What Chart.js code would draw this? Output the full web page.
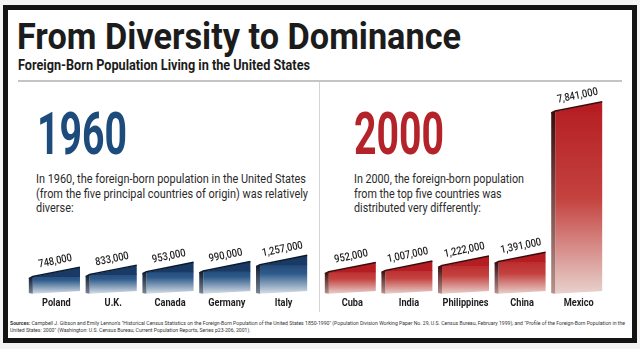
<!DOCTYPE html>
<html>
<head>
<meta charset="utf-8">
<script src="https://cdn.jsdelivr.net/npm/chart.js@4.4.1/dist/chart.umd.min.js"></script>
<style>
  html, body { margin: 0; padding: 0; background: #f4f4f4; }
  #page { position: relative; width: 640px; height: 349px; overflow: hidden; }
  #frame {
    position: absolute; left: 3px; top: 5px; width: 624px; height: 328px;
    border: 5px solid #141414; background: #fff;
  }
  .abs { position: absolute; white-space: nowrap; transform-origin: 0 0; font-family: Roboto, sans-serif; }
  #title { left: 17px; top: 15px; font-weight: bold; font-size: 37px; color: #1c1c1c; }
  #subtitle { left: 18px; top: 57px; font-weight: bold; font-size: 14.5px; color: #1c1c1c; }
  #rule { left: 18px; top: 80px; width: 604px; height: 2px; background: #c4c4c4; }
  #divider { left: 319px; top: 82px; width: 1px; height: 230px; background: #d4d4d4; }
  .year { top: 99px; font-weight: bold; font-size: 59px; line-height: 70px; }
  #y1960 { left: 37px; color: #1d4c7c; }
  #y2000 { left: 354px; color: #b5232a; }
  .para { top: 172px; font-size: 12.5px; line-height: 14.5px; color: #2a2a2a; }
  #p1960 { left: 36px; }
  #p2000 { left: 354px; }
  #sources { left: 10px; top: 319px; font-size: 6px; line-height: 7px; color: #333; }
  .box { position: absolute; top: 84px; height: 229px; }
  #box1960 { left: 28px; width: 284px; }
  #box2000 { left: 324px; width: 283px; }
</style>
</head>
<body>
<div id="page">
  <div id="frame"></div>
  <div id="title" class="abs" data-w="444">From Diversity to Dominance</div>
  <div id="subtitle" class="abs" data-w="292">Foreign-Born Population Living in the United States</div>
  <div id="rule" class="abs"></div>
  <div id="divider" class="abs"></div>
  <div id="y1960" class="abs year" data-w="90">1960</div>
  <div id="y2000" class="abs year" data-w="90">2000</div>
  <div id="p1960" class="abs para" data-w="270"><span class="first">In 1960, the foreign-born population in the United States</span><br>(from the five principal countries of origin) was relatively<br>diverse:</div>
  <div id="p2000" class="abs para" data-w="170"><span class="first">In 2000, the foreign-born population</span><br>from the top five countries was<br>distributed very differently:</div>
  <div class="box" id="box1960"><canvas id="chart1960"></canvas></div>
  <div class="box" id="box2000"><canvas id="chart2000"></canvas></div>
  <div id="sources" class="abs" data-w="615"><span class="first"><b>Sources:</b> Campbell J. Gibson and Emily Lennon's "Historical Census Statistics on the Foreign-Born Population of the United States 1850-1990" (Population Division Working Paper No. 29, U.S. Census Bureau, February 1999), and "Profile of the Foreign-Born Population in the</span><br>United States: 2000" (Washington: U.S. Census Bureau, Current Population Reports, Series p23-206, 2001).</div>
</div>
<script>
// chart data
const countries1960 = ['Poland', 'U.K.', 'Canada', 'Germany', 'Italy'];
const pop1960 = [748000, 833000, 953000, 990000, 1257000];
const countries2000 = ['Cuba', 'India', 'Philippines', 'China', 'Mexico'];
const pop2000 = [952000, 1007000, 1222000, 1391000, 7841000];
const axisMax = 9000000;

const blueStops = [[0, '#193a66'], [0.45, '#2d5a8a'], [1, '#d9e0e8']];
const redStops = [[0, '#b51d22'], [0.5, '#c4423f'], [1, '#e8d2cd']];

// squeeze wide text so it looks like the condensed face in the original
document.querySelectorAll('[data-w]').forEach(el => {
    const first = el.querySelector('.first') || el;
    const w = first.getBoundingClientRect().width;
    el.style.transform = 'scaleX(' + (el.dataset.w / w) + ')';
});

function barGradient(stops) {
    return (ctx) => {
        const chart = ctx.chart;
        if (!chart.chartArea || ctx.raw == null) return stops[0][1];
        const y = chart.scales.y;
        const top = y.getPixelForValue(ctx.raw);
        const base = y.getPixelForValue(0);
        const g = chart.ctx.createLinearGradient(0, top - 8, 0, base);
        stops.forEach(s => g.addColorStop(s[0], s[1]));
        return g;
    };
}

// draws slanted top, dark left side, tilted value labels and category names
const bar3d = {
    id: 'bar3d',
    afterDatasetsDraw(chart, args, opts) {
        const ctx = chart.ctx;
        const meta = chart.getDatasetMeta(0);
        const values = chart.data.datasets[0].data;
        const labels = chart.data.labels;
        meta.data.forEach((el, i) => {
            const { x, y, base, width } = el.getProps(['x', 'y', 'base', 'width'], true);
            const left = x - width / 2, right = x + width / 2;
            const rise = width * 0.2;

            ctx.save();
            // top wedge
            ctx.beginPath();
            ctx.moveTo(left, y + 0.5);
            ctx.lineTo(right, y - rise);
            ctx.lineTo(right, y + 0.5);
            ctx.closePath();
            ctx.fillStyle = opts.top;
            ctx.fill();
            // top edge
            ctx.beginPath();
            ctx.moveTo(left - 4, y + 2);
            ctx.lineTo(left, y);
            ctx.lineTo(right, y - rise);
            ctx.strokeStyle = opts.edge;
            ctx.lineWidth = 1.5;
            ctx.stroke();
            // left side
            const sg = ctx.createLinearGradient(0, y, 0, base);
            sg.addColorStop(0, opts.edge);
            sg.addColorStop(1, opts.sideBottom);
            ctx.beginPath();
            ctx.moveTo(left - 4, y + 2);
            ctx.lineTo(left, y);
            ctx.lineTo(left, base);
            ctx.lineTo(left - 4, base - 1);
            ctx.closePath();
            ctx.fillStyle = sg;
            ctx.fill();
            // bottom edge slightly tilted
            ctx.beginPath();
            ctx.moveTo(left - 5, base);
            ctx.lineTo(right + 1, base - 3);
            ctx.lineTo(right + 1, base + 2);
            ctx.lineTo(left - 5, base + 2);
            ctx.closePath();
            ctx.fillStyle = '#ffffff';
            ctx.fill();
            ctx.restore();

            // value label
            ctx.save();
            ctx.translate(x, y - rise / 2 - 5);
            ctx.rotate(-0.2);
            ctx.scale(0.85, 1);
            ctx.fillStyle = '#1e1e1e';
            ctx.font = '500 11px Roboto, sans-serif';
            ctx.textAlign = 'center';
            ctx.textBaseline = 'bottom';
            ctx.fillText(values[i].toLocaleString('en-US'), 0, 0);
            ctx.restore();

            // category name
            ctx.save();
            ctx.translate(x, chart.chartArea.bottom + 9);
            ctx.scale(0.8, 1);
            ctx.fillStyle = '#1e1e1e';
            ctx.font = 'bold 11.5px Roboto, sans-serif';
            ctx.textAlign = 'center';
            ctx.textBaseline = 'middle';
            ctx.fillText(labels[i], 0, 0);
            ctx.restore();
        });
    }
};

function makeChart(id, labels, values, stops, colors) {
    const ctx = document.getElementById(id).getContext('2d');
    return new Chart(ctx, {
        type: 'bar',
        data: {
            labels: labels,
            datasets: [{
                data: values,
                backgroundColor: barGradient(stops),
                borderWidth: 0,
                categoryPercentage: 1,
                barPercentage: 0.83
            }]
        },
        options: {
            responsive: true,
            maintainAspectRatio: false,
            animation: false,
            layout: { padding: { top: 0, left: 0, right: 0, bottom: 19 } },
            plugins: {
                legend: { display: false },
                tooltip: { enabled: false },
                bar3d: colors
            },
            scales: {
                x: { display: false },
                y: { display: false, min: 0, max: axisMax }
            }
        },
        plugins: [bar3d]
    });
}

makeChart('chart1960', countries1960, pop1960, blueStops,
    { top: '#1a3a66', edge: '#0c1a2e', sideBottom: '#7b8797' });
makeChart('chart2000', countries2000, pop2000, redStops,
    { top: '#b51d22', edge: '#3a0c0c', sideBottom: '#b8908c' });
</script>
</body>
</html>
